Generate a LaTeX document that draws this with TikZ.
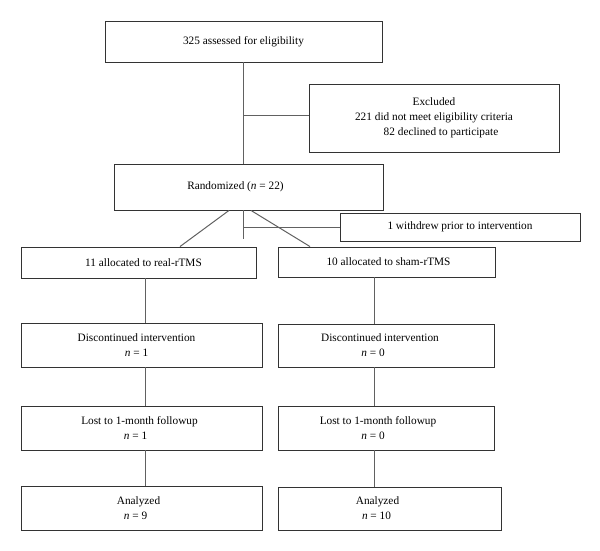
\documentclass[tikz,border=0pt]{standalone}
\usepackage{fontspec}
\setmainfont{Liberation Serif}
\begin{document}
\begin{tikzpicture}[x=1pt,y=-1pt,
  box/.style={draw=black!80, line width=0.9pt, fill=white, inner sep=0pt, align=center,
    font=\fontsize{11.3}{15}\selectfont},
  link/.style={draw=black!62, line width=1pt}]
\useasboundingbox (0,0) rectangle (600,551);
% boxes
\node[box, minimum width=277pt, minimum height=41pt] (top) at (243.5,41.5) {325 assessed for eligibility};
\node[box, minimum width=250pt, minimum height=68pt] (excl) at (434,118)
  {Excluded\\221 did not meet eligibility criteria\\\hspace*{14pt}82 declined to participate};
\node[box, minimum width=269pt, minimum height=46pt] (rand) at (248.5,187)
  {Randomized (\textit{n} = 22)\hspace*{26pt}};
\node[box, minimum width=240pt, minimum height=28pt] (with) at (460,227) {1 withdrew prior to intervention};
\node[box, minimum width=235pt, minimum height=31pt] (real) at (138.5,262.5) {\hspace*{10pt}11 allocated to real-rTMS};
\node[box, minimum width=217pt, minimum height=30pt] (sham) at (386.5,262) {\hspace*{4pt}10 allocated to sham-rTMS};
\node[box, minimum width=241pt, minimum height=44pt] (discL) at (141.5,345)
  {Discontinued intervention\hspace*{10pt}\\\textit{n} = 1\hspace*{10pt}};
\node[box, minimum width=216pt, minimum height=43pt] (discR) at (386,345.5)
  {Discontinued intervention\hspace*{12pt}\\\textit{n} = 0\hspace*{26pt}};
\node[box, minimum width=241pt, minimum height=44pt] (lostL) at (141.5,428)
  {Lost to 1-month followup\hspace*{4pt}\\\textit{n} = 1\hspace*{12pt}};
\node[box, minimum width=216pt, minimum height=44pt] (lostR) at (386,428)
  {Lost to 1-month followup\hspace*{16pt}\\\textit{n} = 0\hspace*{26pt}};
\node[box, minimum width=241pt, minimum height=44pt] (anaL) at (141.5,508)
  {Analyzed\hspace*{6pt}\\\textit{n} = 9\hspace*{12pt}};
\node[box, minimum width=223pt, minimum height=43pt] (anaR) at (389.5,508.5)
  {Analyzed\hspace*{24pt}\\\textit{n} = 10\hspace*{26pt}};
% helper coordinates
\coordinate (trunk) at (243,0);
\coordinate (colL) at (145,0);
\coordinate (colR) at (374.5,0);
\coordinate (b1) at (243,115);
\coordinate (stub) at (243,239);
\coordinate (stubj) at (243,227);
% connectors
\draw[link] (top.south -| trunk) -- (rand.north -| trunk);
\draw[link] (b1) -- (b1 -| excl.west);
\draw[link] ([xshift=-19.5pt]rand.south) -- ([xshift=41.5pt]real.north);
\draw[link] ([xshift=2.5pt]rand.south) -- ([xshift=-76.5pt]sham.north);
\draw[link] (rand.south -| stub) -- (stub);
\draw[link] (stubj) -- (with.west);
\draw[link] (real.south -| colL) -- (discL.north -| colL);
\draw[link] (discL.south -| colL) -- (lostL.north -| colL);
\draw[link] (lostL.south -| colL) -- (anaL.north -| colL);
\draw[link] (sham.south -| colR) -- (discR.north -| colR);
\draw[link] (discR.south -| colR) -- (lostR.north -| colR);
\draw[link] (lostR.south -| colR) -- (anaR.north -| colR);
\end{tikzpicture}
\end{document}
